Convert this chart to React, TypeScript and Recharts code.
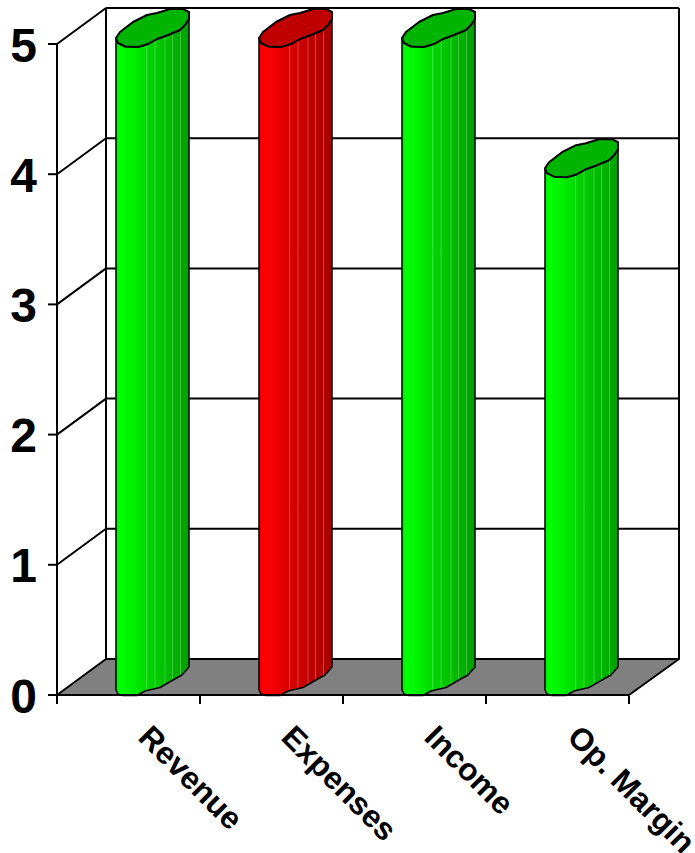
import React from 'react'
import { Bar, BarChart, CartesianGrid, XAxis, YAxis } from 'recharts'

const categories = ['Revenue', 'Expenses', 'Income', 'Op. Margin']
const values = [5, 5, 5, 4]
const barColors = ['green', 'red', 'green', 'green']
const yTicks = [0, 1, 2, 3, 4, 5]

const chartData = categories.map((name, index) => ({ name, value: values[index], tone: barColors[index] }))

// oblique depth of the floor and the back wall
const DEPTH_X = 49
const DEPTH_Y = 36
const BAR_WIDTH = 25
const FONT = '"Liberation Sans", Arial, sans-serif'
const LINE = 2

// outline of the cylinder cap and foot, as offsets from the bar's left edge and its top/bottom
const capFront: [number, number][] = [[0, -6], [2, -1], [9, 2.5], [22, 3], [32, 0], [41, -5], [52, -9], [64, -14], [69, -19], [73, -25]]
const capBack: [number, number][] = [[73, -32], [67, -35], [54, -35], [41, -31], [31, -29], [17, -22], [4, -12]]
const foot: [number, number][] = [[73, -28], [66, -20], [57, -15], [44, -7.5], [29, -4], [21, 0.5], [7, 0.5], [2, -1], [0, -5]]
const facetLines = [30.7, 39, 49, 56.5, 64.5]

const shades: Record<string, { cap: string; stops: [number, string][] }> = {
  green: {
    cap: '#00b400',
    stops: [[0, '#00ee00'], [0.06, '#00ff00'], [0.22, '#00f000'], [0.42, '#00d800'], [0.7, '#00bc00'], [1, '#00a000']],
  },
  red: {
    cap: '#c00000',
    stops: [[0, '#ee0000'], [0.06, '#ff0000'], [0.22, '#f00000'], [0.42, '#d80000'], [0.7, '#c00000'], [1, '#a80000']],
  },
}

const toPath = (points: [number, number][], x: number, y: number) =>
  points.map(([dx, dy], i) => `${i ? 'L' : 'M'}${x + dx} ${y + dy}`).join(' ')

function CylinderBar(props: any) {
  const { x, y, height, index, tone } = props
  const bottom = y + height
  const body = `${toPath(capFront, x, y)} ${toPath(foot, x, bottom).replace('M', 'L')} Z`
  const cap = `${toPath(capFront, x, y)} ${toPath(capBack, x, y).replace('M', 'L')} Z`
  const clipId = `cyl-clip-${index}`
  return (
    <g>
      <clipPath id={clipId}>
        <path d={body} />
      </clipPath>
      <path d={body} fill={`url(#cyl-${tone})`} />
      <g clipPath={`url(#${clipId})`}>
        {facetLines.map((dx) => (
          <line key={dx} x1={x + dx} x2={x + dx} y1={y - DEPTH_Y} y2={bottom} stroke="rgba(255,255,255,0.26)" strokeWidth={1} />
        ))}
      </g>
      <path d={body} fill="none" stroke="#000" strokeWidth={1.5} strokeLinejoin="round" />
      <path d={cap} fill={shades[tone].cap} stroke="#000" strokeWidth={2} strokeLinejoin="round" />
    </g>
  )
}

// Each horizontal grid line becomes a back-wall line plus the diagonal on the side wall.
// The zero line also lays down the floor and the wall edges.
function WallLine(props: any) {
  const { x1, x2, y1, index, y, height } = props
  const left = x1 + DEPTH_X
  const right = x2 + DEPTH_X + 1
  const back = y1 - DEPTH_Y
  const isFloor = Math.abs(y1 - (y + height)) < 0.5
  const wallTop = y - DEPTH_Y
  return (
    <g key={index}>
      {isFloor && (
        <>
          <polygon
            points={`${x1},${y1} ${left},${back} ${right},${back} ${x2},${y1}`}
            fill="#808080"
            stroke="#000"
            strokeWidth={LINE}
            strokeLinejoin="round"
          />
          <line x1={left} x2={left} y1={wallTop} y2={back} stroke="#000" strokeWidth={LINE} />
          <line x1={right} x2={right} y1={wallTop} y2={back} stroke="#000" strokeWidth={LINE} />
        </>
      )}
      {!isFloor && (
        <>
          <line x1={x1} y1={y1} x2={left} y2={back} stroke="#000" strokeWidth={LINE} />
          <line x1={left} y1={back} x2={right} y2={back} stroke="#000" strokeWidth={LINE} />
        </>
      )}
    </g>
  )
}

function YTick(props: any) {
  const { x, y, payload } = props
  return (
    <g>
      <line x1={x - 9} x2={x} y1={y} y2={y} stroke="#000" strokeWidth={LINE} />
      <text x={x - 20} y={y + 1} textAnchor="end" dominantBaseline="central" fontFamily={FONT} fontWeight={700} fontSize={48} fill="#000">
        {payload.value}
      </text>
    </g>
  )
}

function XTick(props: any) {
  const { x, y, payload, index, width } = props
  const step = width / categories.length
  const tickLeft = x - step / 2
  const labelX = x + 16
  const labelY = y + 36
  return (
    <g>
      <line x1={tickLeft} x2={tickLeft} y1={y} y2={y + 9} stroke="#000" strokeWidth={LINE} />
      {index === categories.length - 1 && (
        <line x1={tickLeft + step} x2={tickLeft + step} y1={y} y2={y + 9} stroke="#000" strokeWidth={LINE} />
      )}
      <text
        x={labelX}
        y={labelY}
        transform={`rotate(45 ${labelX} ${labelY})`}
        textAnchor="start"
        dominantBaseline="central"
        fontFamily={FONT}
        fontWeight={700}
        fontSize={31.5}
        fill="#000"
      >
        {payload.value}
      </text>
    </g>
  )
}

export default function App() {
  return (
    <div style={{ position: 'absolute', left: 0, top: 0, width: 695, height: 853, background: '#fff', overflow: 'hidden' }}>
      <BarChart width={695} height={853} data={chartData} margin={{ top: 44, right: 66, bottom: 0, left: 0 }} barSize={BAR_WIDTH}>
        <defs>
          {Object.entries(shades).map(([tone, shade]) => (
            <linearGradient key={tone} id={`cyl-${tone}`} x1="0" y1="0" x2="1" y2="0">
              {shade.stops.map(([offset, color]) => (
                <stop key={offset} offset={offset} stopColor={color} />
              ))}
            </linearGradient>
          ))}
        </defs>
        <CartesianGrid vertical={false} horizontal={(props: any) => <WallLine key={props.index} {...props} />} />
        <XAxis
          dataKey="name"
          height={158}
          interval={0}
          tickLine={false}
          tickSize={0}
          tickMargin={0}
          axisLine={{ stroke: '#000', strokeWidth: LINE }}
          tick={(props: any) => <XTick {...props} />}
        />
        <YAxis
          width={57}
          domain={[0, 5]}
          ticks={yTicks}
          tickLine={false}
          tickSize={0}
          tickMargin={0}
          axisLine={{ stroke: '#000', strokeWidth: LINE }}
          tick={(props: any) => <YTick {...props} />}
        />
        <Bar
          dataKey="value"
          isAnimationActive={false}
          shape={(props: any) => <CylinderBar {...props} tone={props.tone ?? props.payload?.tone} />}
        />
      </BarChart>
    </div>
  )
}
